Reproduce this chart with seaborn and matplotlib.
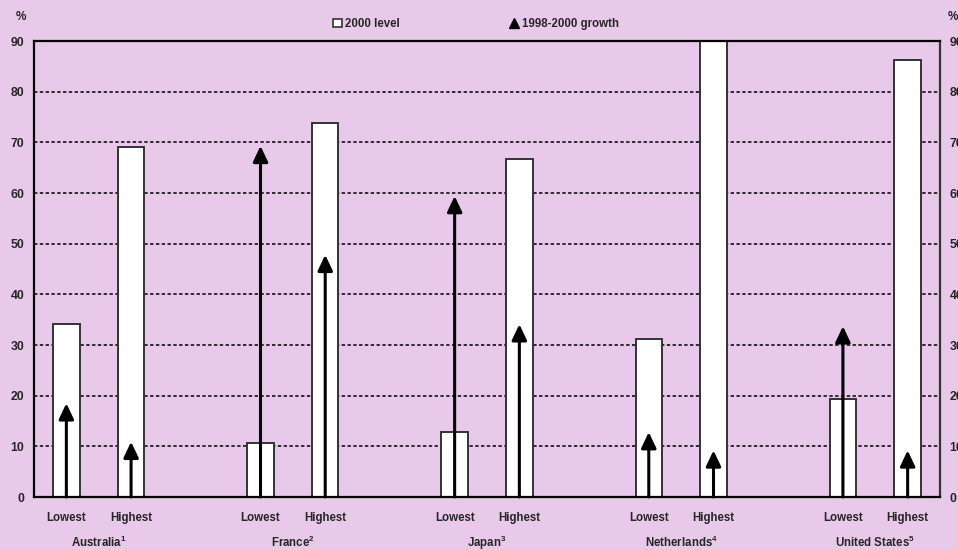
import matplotlib

matplotlib.use("Agg")
import matplotlib.pyplot as plt
import numpy as np
import pandas as pd
import seaborn as sns
from matplotlib.lines import Line2D
from matplotlib.patches import Patch

# -----------------------------------------------------------------------------
# Data
# -----------------------------------------------------------------------------
countries = ["Australia", "France", "Japan", "Netherlands", "United States"]
notes = ["1", "2", "3", "4", "5"]
groups = ["Lowest", "Highest"]

level_2000 = [34.1, 69.0, 10.7, 73.9, 12.9, 66.7, 31.2, 90.0, 19.3, 86.3]
growth_98_00 = [18.5, 10.9, 69.3, 47.8, 59.4, 34.1, 12.8, 9.2, 33.7, 9.2]

y_ticks = [0, 10, 20, 30, 40, 50, 60, 70, 80, 90]

BG = "#E9C9EA"

# slot positions: two bars per country, one empty slot between countries
pos = [3 * i + j for i in range(len(countries)) for j in range(len(groups))]
df = pd.DataFrame(
    {
        "pos": pos,
        "group": groups * len(countries),
        "level": level_2000,
        "growth": growth_98_00,
    }
)

sns.set_theme(style="white")
plt.rcParams["font.family"] = ["Liberation Sans", "DejaVu Sans"]
plt.rcParams["font.weight"] = "bold"
plt.rcParams["mathtext.fontset"] = "custom"
plt.rcParams["mathtext.rm"] = "Liberation Sans:bold"
plt.rcParams["mathtext.default"] = "rm"

fig = plt.figure(figsize=(9.58, 5.50), dpi=100, facecolor=BG)
ax = fig.add_axes([34 / 958, 1 - 497 / 550, 906 / 958, 456 / 550])
ax.set_facecolor(BG)

sns.barplot(
    data=df,
    x="pos",
    y="level",
    native_scale=True,
    width=0.41,
    color="white",
    saturation=1,
    edgecolor="#333333",
    linewidth=1.4,
    errorbar=None,
    ax=ax,
    zorder=2,
)

# growth arrows from zero to the value
for x, g in zip(df["pos"], df["growth"]):
    ax.annotate(
        "",
        xy=(x, g),
        xytext=(x, 0),
        xycoords="data",
        arrowprops=dict(
            arrowstyle="-|>,head_length=0.95,head_width=0.45",
            mutation_scale=10,
            color="black",
            lw=2.2,
            shrinkA=0,
            shrinkB=0,
        ),
        zorder=3,
        annotation_clip=False,
    )

ax.set_xlim(-0.5, 13.5)
ax.set_ylim(0, 90)
ax.set_yticks(y_ticks)
ax.set_xticks(df["pos"])
ax.set_xticklabels(df["group"])
ax.set_xlabel("")
ax.set_ylabel("")

ax.yaxis.grid(True, color="black", linestyle=(0, (2.2, 1.6)), linewidth=1.1)
ax.xaxis.grid(False)
ax.set_axisbelow(True)

for side in ["left", "bottom", "top"]:
    ax.spines[side].set_visible(True)
    ax.spines[side].set_color("black")
    ax.spines[side].set_linewidth(1.6)
ax.spines["right"].set_color("#333333")
ax.spines["right"].set_linewidth(1.6)

ax.tick_params(axis="y", length=0, pad=7, labelsize=8.8, left=True,
               right=True, labelleft=True, labelright=True)
ax.tick_params(axis="x", length=0, pad=11, labelsize=8.3)

# country names with footnote superscripts
for i, (c, n) in enumerate(zip(countries, notes)):
    ax.annotate(
        f"{c}$^{{{n}}}$",
        xy=(3 * i + 0.5, 0),
        xycoords=ax.get_xaxis_transform(),
        xytext=(0, -33),
        textcoords="offset points",
        ha="center",
        va="center",
        fontsize=8.3,
        fontweight="bold",
        annotation_clip=False,
    )

fig.text(16 / 958, 1 - 17 / 550, "%", fontsize=8.5, fontweight="bold",
         ha="left", va="center")
fig.text(948 / 958, 1 - 17 / 550, "%", fontsize=8.5, fontweight="bold",
         ha="left", va="center")

handles = [
    Patch(facecolor="white", edgecolor="#333333", linewidth=1.2),
    Line2D([], [], marker="^", color="black", linestyle="none", markersize=7),
]
fig.legend(
    handles,
    ["2000 level", "1998-2000 growth"],
    loc="center",
    bbox_to_anchor=(0.497, 1 - 24 / 550),
    ncol=2,
    frameon=False,
    fontsize=8.3,
    handlelength=0.8,
    handleheight=0.8,
    handletextpad=0.3,
    columnspacing=9.5,
)

fig.savefig("out.png", dpi=100, facecolor=BG)
